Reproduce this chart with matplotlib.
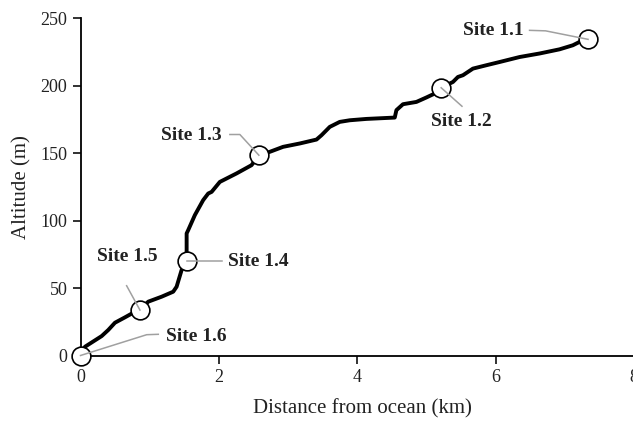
import matplotlib
matplotlib.use("Agg")
import matplotlib.pyplot as plt
from matplotlib.lines import Line2D

# Profile data (distance km, altitude m)
distance = [0.0, 0.065, 0.306, 0.401, 0.498, 0.643, 0.762, 0.859, 0.979, 1.173, 1.340,
            1.389, 1.461, 1.534, 1.534, 1.557, 1.653, 1.773, 1.846, 1.895, 2.014,
            2.256, 2.472, 2.578, 2.736, 2.928, 3.170, 3.411, 3.483, 3.603, 3.747,
            3.892, 4.133, 4.542, 4.566, 4.661, 4.855, 4.999, 5.119, 5.213, 5.383,
            5.455, 5.528, 5.672, 5.866, 6.058, 6.347, 6.635, 6.924, 7.116, 7.260, 7.336]
altitude = [0.0, 6.5, 14.4, 18.9, 24.3, 28.3, 31.7, 33.7, 39.9, 43.6, 47.3,
            51.0, 63.3, 70.2, 90.5, 93.0, 104.1, 115.2, 120.1, 121.3, 128.7,
            135.0, 141.1, 148.5, 151.0, 154.7, 157.2, 160.1, 163.3, 169.5, 173.2,
            174.4, 175.4, 176.4, 181.9, 186.3, 188.0, 191.3, 194.2, 198.5, 202.8,
            206.5, 207.8, 212.7, 215.2, 217.6, 221.3, 223.9, 227.0, 230.0, 233.7, 234.4]

site_names = ["Site 1.1", "Site 1.2", "Site 1.3", "Site 1.4", "Site 1.5", "Site 1.6"]
site_x = [7.336, 5.213, 2.578, 1.534, 0.859, 0.0]
site_y = [234.4, 198.5, 148.5, 70.2, 33.7, 0.0]

x_ticks = [0, 2, 4, 6, 8]
y_ticks = [0, 50, 100, 150, 200, 250]

# label layout (pixel offsets from site centre, y up)
label_pos = [(-64, 8.5, "right"), (20.5, -34, "center"), (-37, 20, "right"),
             (41, -0.5, "left"), (-13, 54, "center"), (85, 19, "left")]
leader_paths = [[(-58.5, 9), (-42.5, 8.5)],
                [(20.8, -18.5)],
                [(-29, 20.7), (-19, 20.7)],
                [(35, 0)],
                [(-13.3, 24.3)],
                [(77.8, 21.2), (66.2, 20.8)]]

plt.rcParams['font.family'] = ['Liberation Serif', 'DejaVu Serif']
W, H, DPI = 633, 423, 100
fig = plt.figure(figsize=(W / DPI, H / DPI), dpi=DPI)
ax = fig.add_axes([80.5 / W, 67.5 / H, (634 - 80.5) / W, (404.7 - 67.5) / H])

ax.plot(distance, altitude, color='black', lw=2.8, solid_joinstyle='round',
        solid_capstyle='round', zorder=3)
ax.plot(site_x, site_y, 'o', ms=13.5, mfc='white', mec='black', mew=1.2,
        zorder=5, clip_on=False)

ax.set_xlim(0, 8)
ax.set_ylim(0, 250)
ax.set_xticks(x_ticks)
ax.set_yticks(y_ticks)
for s in ['top', 'right']:
    ax.spines[s].set_visible(False)
for s in ['left', 'bottom']:
    ax.spines[s].set_linewidth(1.3)
ax.tick_params(direction='out', length=5.5, width=1.3, labelsize=13, colors='#222222', pad=4)
ax.set_xlabel("Distance from ocean (km)", fontsize=15, color='#222222')
ax.set_ylabel("Altitude (m)", fontsize=15, color='#222222', labelpad=6)
ax.xaxis.set_label_coords((362 - 80.5) / (634 - 80.5), -(399 - 355.5) / (355.5 - 18.3))

fig.canvas.draw()
for name, sx, sy, (tx, ty, ha), path in zip(site_names, site_x, site_y, label_pos, leader_paths):
    cx, cy = ax.transData.transform((sx, sy))
    xs = [cx + p[0] for p in path] + [cx]
    ys = [cy + p[1] for p in path] + [cy]
    fig.add_artist(Line2D(xs, ys, transform=None, color='#a0a0a0', lw=1.1, zorder=6))
    fig.text((cx + tx) / W, (cy + ty) / H, name, ha=ha, va='center', fontsize=14,
             fontweight='bold', color='#222222', zorder=7)

fig.savefig("out.png", dpi=DPI)
